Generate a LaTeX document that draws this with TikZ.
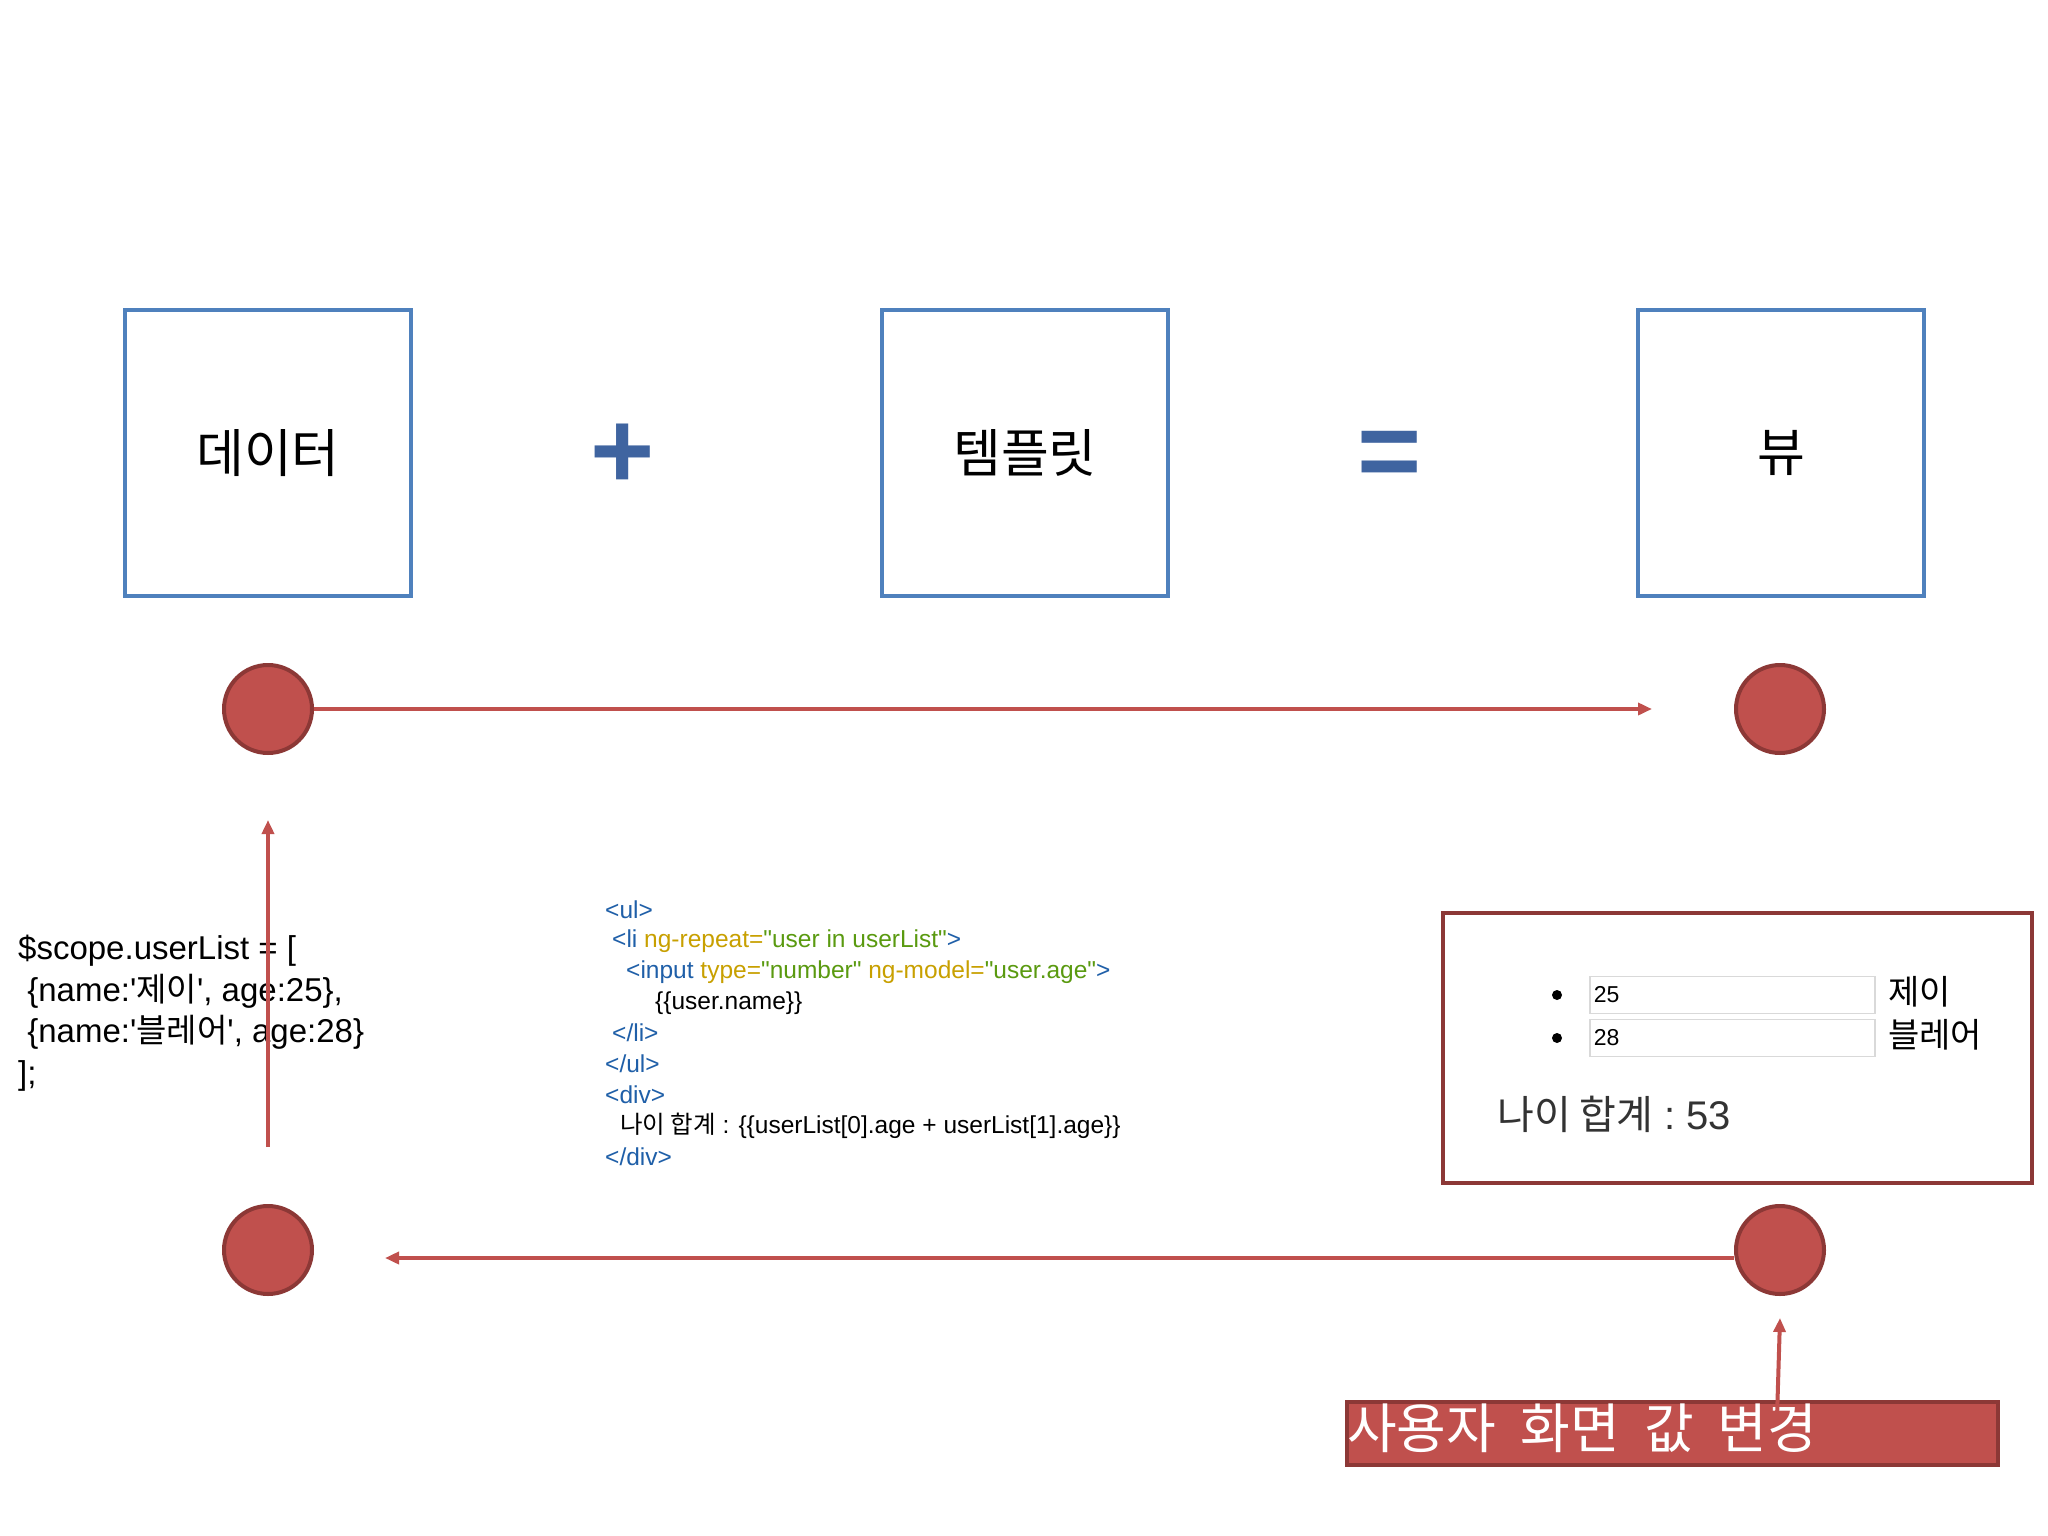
\documentclass[tikz,border=0pt]{standalone}
\usepackage{fontspec}
\setmainfont{Liberation Sans}[Ligatures=TeXOff]
\newfontfamily\kr{Noto Sans CJK KR}[Ligatures=TeXOff]
\usetikzlibrary{arrows.meta}
\definecolor{bbox}{HTML}{4F81BD}
\definecolor{sym}{HTML}{3F64A0}
\definecolor{rfill}{HTML}{C0504D}
\definecolor{rdark}{HTML}{8C3836}
\definecolor{cblue}{HTML}{1F5FA8}
\definecolor{cyel}{HTML}{C8A000}
\definecolor{cgreen}{HTML}{5A9A10}
\tikzset{
 bx/.style={draw=bbox,line width=4pt,fill=white,minimum width=286pt,minimum height=286pt,font=\kr\fontsize{52}{60}\selectfont},
 dot/.style={circle,draw=rdark,line width=4pt,fill=rfill,minimum size=88pt,inner sep=0pt},
 arr/.style={draw=rfill,line width=4pt,-{Triangle[length=14pt,width=12pt]}},
 code/.style={anchor=west,font=\fontsize{24.5}{28}\selectfont,inner sep=0pt},
 field/.style={draw=black!15,line width=1.5pt,minimum height=37pt,text width=277pt,align=left,anchor=west,inner sep=4pt,font=\fontsize{23}{26}\selectfont}
}
\begin{document}
\begin{tikzpicture}[x=1pt,y=-1pt]
\useasboundingbox (0,0) rectangle (2048,1536);
\fill[white] (0,0) rectangle (2048,1536);
\node[bx] (data) at (268,453) {데이터};
\node[bx] (tpl) at (1025,453) {템플릿};
\node[bx] (view) at (1781,453) {뷰};
\node[text=sym,font=\fontsize{110}{110}\selectfont\bfseries] (plus) at (623,456) {+};
\node[text=sym,font=\fontsize{110}{110}\selectfont\bfseries] (eq) at (1390,460) {=};
\node[dot] (c1) at (268,709) {};
\node[dot] (c2) at (1780,709) {};
\node[dot] (c3) at (268,1250) {};
\node[dot] (c4) at (1780,1250) {};
\coordinate (t1) at (1652,709);
\draw[arr] (c1) -- (t1);
\coordinate (t2) at (385,1258);
\draw[arr] (c4.west|-t2) -- (t2);
% left code
\node[anchor=north west,align=left,inner sep=0pt,font=\fontsize{33}{41.5}\selectfont] (lc) at (18,935) {\$scope.userList = [\\
\ \{name:'{\kr 제이}', age:25\},\\
\ \{name:'{\kr 블레어}', age:28\}\\
];};
\coordinate (va) at (268,1147);
\coordinate (vb) at (268,820);
\draw[arr] (va) -- (vb);
% template code
\begin{scope}[every node/.style={code}]
\node (l1) at (605,910) {\textcolor{cblue}{<ul>}};
\node (l2) at (612,941) {\textcolor{cblue}{<li} \textcolor{cyel}{ng-repeat=}\textcolor{cgreen}{"user in userList"}\textcolor{cblue}{>}};
\node (l3) at (626,972) {\textcolor{cblue}{<input} \textcolor{cyel}{type=}\textcolor{cgreen}{"number"} \textcolor{cyel}{ng-model=}\textcolor{cgreen}{"user.age"}\textcolor{cblue}{>}};
\node (l4) at (655,1003) {\{\{user.name\}\}};
\node (l5) at (612,1033) {\textcolor{cblue}{</li>}};
\node (l6) at (605,1064) {\textcolor{cblue}{</ul>}};
\node (l7) at (605,1095) {\textcolor{cblue}{<div>}};
\node (l8) at (620,1126) {{\kr 나이 합계} : \{\{userList[0].age + userList[1].age\}\}};
\node (l9) at (605,1157) {\textcolor{cblue}{</div>}};
\end{scope}
% screen box
\node[draw=rdark,line width=4pt,fill=white,minimum width=589pt,minimum height=270pt] (scr) at (1737.5,1048) {};
\fill (1557,995) circle (5pt);
\fill (1557,1038) circle (5pt);
\node[field] (f1) at (1589,995) {25};
\node[field] (f2) at (1589,1038) {28};
\node[anchor=west,font=\kr\fontsize{34}{36}\selectfont,inner sep=0pt] (n1) at (1888,992) {제이};
\node[anchor=west,font=\kr\fontsize{34}{36}\selectfont,inner sep=0pt] (n2) at (1888,1035) {블레어};
\node[anchor=west,font=\fontsize{40}{44}\selectfont,text=black!80,inner sep=0pt] (sum) at (1497,1114) {{\kr 나이 합계} :\ 53};
% label
\node[draw=rdark,line width=4pt,fill=rfill,minimum width=651pt,minimum height=63pt,anchor=north west,inner sep=0pt] (lab) at (1345,1400) {};
\node[anchor=west,text=white,font=\kr\fontsize{54}{58}\selectfont,inner sep=0pt] (labt) at (1347,1428) {사용자\ \ 화면\ \ 값\ \ 변경};
\coordinate (ua) at (1777,1418);
\draw[arr] (ua) -- (c4.south|-1318,1318);
\end{tikzpicture}
\end{document}
